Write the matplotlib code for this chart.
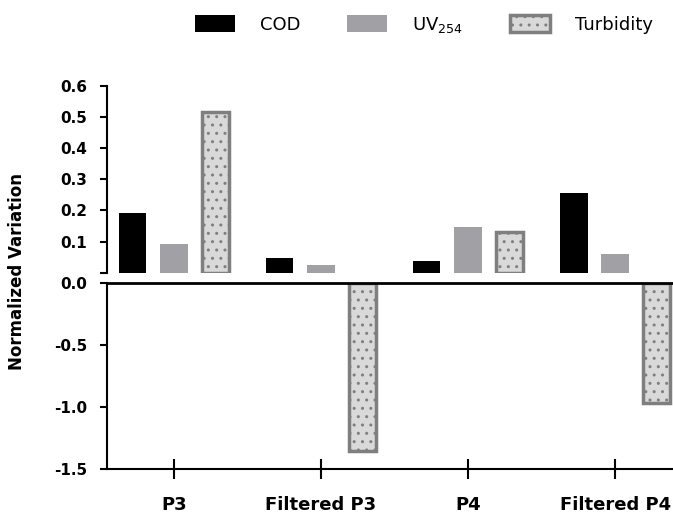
import matplotlib
matplotlib.use("Agg")
import matplotlib.pyplot as plt
import numpy as np

# data
categories = ["P3", "Filtered P3", "P4", "Filtered P4"]
cod = [0.19, 0.046, 0.038, 0.256]
uv254 = [0.093, 0.026, 0.147, 0.061]
turbidity = [0.515, -1.355, 0.13, -0.965]

upper_ticks = [0.1, 0.2, 0.3, 0.4, 0.5, 0.6]
lower_ticks = [0.0, -0.5, -1.0, -1.5]
lower_labels = ["0.0", "-0.5", "-1.0", "-1.5"]

plt.rcParams["font.family"] = ["DejaVu Sans"]

fig = plt.figure(figsize=(6.73, 5.15), dpi=100)
left = 0.1585
ax_top = fig.add_axes([left, 0.4705, 1 - left, 0.3631])
ax_bot = fig.add_axes([left, 0.0887, 1 - left, 0.3623])

x = np.arange(len(categories))
offset = 0.28
width = 0.185


def part(vals, positive):
    # keep only the values that belong to one segment of the broken axis
    v = np.asarray(vals, dtype=float)
    return np.where(v > 0, v, np.nan) if positive else np.where(v < 0, v, np.nan)


for ax, positive in ((ax_top, True), (ax_bot, False)):
    ax.bar(x - offset, part(cod, positive), width, color="black", label="COD")
    ax.bar(x, part(uv254, positive), width, color="#a1a1a5", label="UV$_{254}$")
    ax.bar(x + offset, part(turbidity, positive), width, color="#d9d9d9", edgecolor="#7f7f7f",
           linewidth=2.5, hatch="..", label="Turbidity")
    ax.set_xlim(-0.458, 3.394)
    for s in ("top", "right"):
        ax.spines[s].set_visible(False)
    ax.spines["left"].set_linewidth(1.5)
    ax.tick_params(axis="y", width=1.5, length=5, pad=9, labelsize=11)

# upper segment
ax_top.set_ylim(0, 0.6)
ax_top.spines["bottom"].set_visible(False)
ax_top.set_xticks([])
ax_top.set_yticks([0] + upper_ticks)
ax_top.set_yticklabels([""] + [f"{t:.1f}" for t in upper_ticks], fontweight="bold", fontsize=11)

# lower segment
ax_bot.set_ylim(-1.5, 0)
ax_bot.spines["bottom"].set_linewidth(1.5)
ax_bot.axhline(0, color="black", linewidth=2, zorder=5, clip_on=False)
ax_bot.set_yticks(lower_ticks)
ax_bot.set_yticklabels(lower_labels, fontweight="bold", fontsize=11)
ax_bot.set_xticks(x)
ax_bot.set_xticklabels(categories, fontweight="bold", fontsize=13)
ax_bot.tick_params(axis="x", direction="inout", length=15, width=1.5, pad=12)

fig.text(0.026, 0.472, "Normalized Variation", rotation=90, ha="center", va="center",
         fontsize=12, fontweight="bold")

handles, labels = ax_top.get_legend_handles_labels()
fig.legend(handles, labels, loc="center right", bbox_to_anchor=(0.995, 0.952), ncol=3,
           frameon=False, fontsize=13, handlelength=2.2, handleheight=1.1,
           handletextpad=1.4, columnspacing=2.6)

fig.savefig("out.png", dpi=100)
